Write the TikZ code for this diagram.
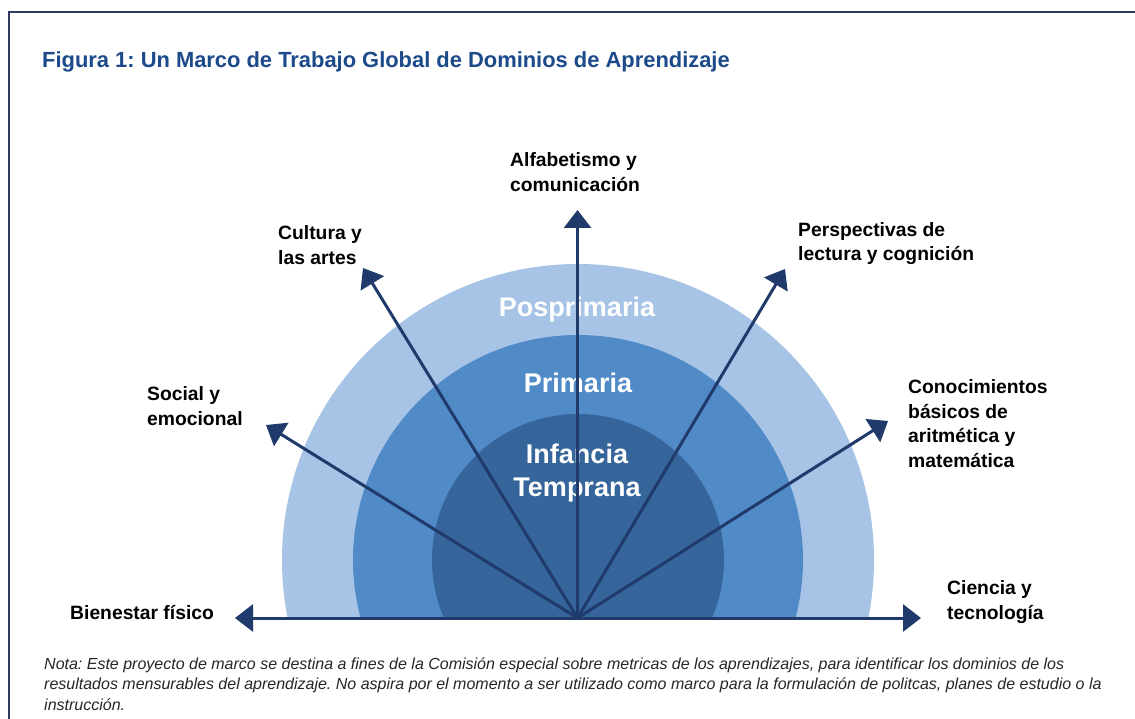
\documentclass[tikz,border=0pt]{standalone}
\usepackage{fontspec}
\setmainfont{Liberation Sans}
\usetikzlibrary{arrows.meta}
\definecolor{navy}{RGB}{31,58,107}
\definecolor{titleblue}{RGB}{28,74,138}
\definecolor{ringA}{RGB}{167,196,230}
\definecolor{ringB}{RGB}{80,139,200}
\definecolor{ringC}{RGB}{53,101,155}
\definecolor{framecol}{RGB}{45,60,95}
\frenchspacing
\begin{document}
\begin{tikzpicture}[x=1pt,y=-1pt,
  dlabel/.style={font=\fontsize{19.3}{24.5}\selectfont\bfseries, align=left, anchor=west, inner sep=0pt, text=black},
  stage/.style={font=\fontsize{27}{33}\selectfont\bfseries, text=white, align=center, inner sep=0pt},
  ray/.style={draw=navy, line width=3pt, -{Triangle[length=18pt,width=27pt]}}]
\useasboundingbox (0,0) rectangle (1135,719);
\fill[white] (0,0) rectangle (1135,719);
\draw[framecol, line width=2pt] (8.5,719) -- (8.5,12.5) -- (1135,12.5);

\node[anchor=west, inner sep=0pt, text=titleblue, font=\fontsize{21.9}{26}\selectfont\bfseries] (title) at (42,62)
  {Figura 1: Un Marco de Trabajo Global de Dominios de Aprendizaje};

\begin{scope}
  \clip (0,0) rectangle (1135,618);
  \fill[ringA] (578,560) circle[radius=296pt];
  \fill[ringB] (578,560) circle[radius=225pt];
  \fill[ringC] (578,560) circle[radius=146pt];
\end{scope}

\node[stage] (pos) at (577,310) {Posprimaria};
\node[stage] (pri) at (578,383) {Primaria};
\node[stage] (inf) at (577,473) {Infancia\\Temprana};

\coordinate (O) at (577.5,618);
\coordinate (tW) at (235,618);
\coordinate (tE) at (921,618);
\coordinate (tN) at (577.5,210);
\coordinate (tNW) at (363,268);
\coordinate (tNE) at (785,269);
\coordinate (tWNW) at (266,425);
\coordinate (tENE) at (888,421);

\draw[ray] (O) -- (tW);
\draw[ray] (O) -- (tE);
\draw[ray] (O) -- (tN);
\draw[ray] (O) -- (tNW);
\draw[ray] (O) -- (tNE);
\draw[ray] (O) -- (tWNW);
\draw[ray] (O) -- (tENE);

\node[dlabel] (alf) at (510,172) {Alfabetismo y\\comunicación};
\node[dlabel] (cul) at (278,245) {Cultura y\\las artes};
\node[dlabel] (per) at (798,243.5) {Perspectivas de\\lectura y cognición};
\node[dlabel] (soc) at (147,406) {Social y\\emocional};
\node[dlabel] (con) at (908,423.5) {Conocimientos\\básicos de\\aritmética y\\matemática};
\node[dlabel] (bie) at (70,613) {Bienestar físico};
\node[dlabel] (cie) at (947,602) {Ciencia y\\tecnología};

\node[anchor=west, align=left, inner sep=0pt, font=\fontsize{16}{20.5}\selectfont\itshape, text=black!85] (nota) at (44,684)
  {Nota: Este proyecto de marco se destina a fines de la Comisión especial sobre metricas de los aprendizajes, para identificar los dominios de los\\
   resultados mensurables del aprendizaje. No aspira por el momento a ser utilizado como marco para la formulación de politcas, planes de estudio o la\\
   instrucción.};
\end{tikzpicture}
\end{document}
